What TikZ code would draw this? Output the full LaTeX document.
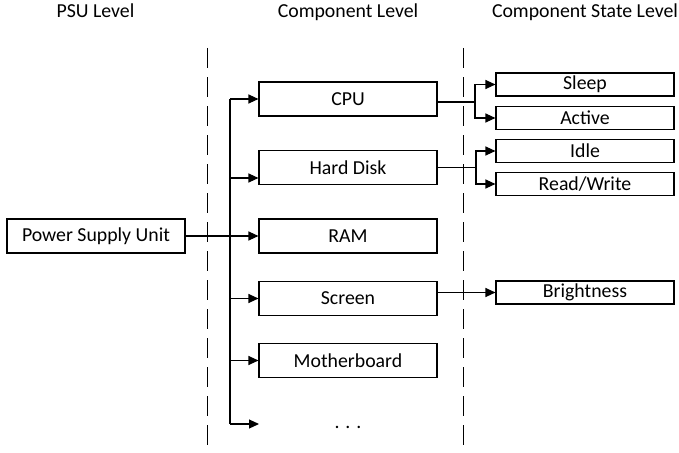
\documentclass[tikz,border=0pt]{standalone}
\usepackage{fontspec}
\setmainfont{Carlito}
\usetikzlibrary{arrows.meta}
\begin{document}
\begin{tikzpicture}[x=1pt,y=1pt,
  font=\fontsize{19.8}{23}\selectfont,
  box/.style={draw, line width=1.1pt, inner sep=0pt, minimum width=178pt, minimum height=34pt},
  sbox/.style={draw, line width=1.1pt, inner sep=0pt, minimum width=178pt, minimum height=23pt},
  title/.style={anchor=base, inner sep=0pt},
  conn/.style={line width=1.1pt},
  arr/.style={conn, -{Triangle[length=10pt,width=9pt]}},
  sep/.style={line width=0.9pt, dash pattern=on 20pt off 9pt}]
\useasboundingbox (0,0) rectangle (679,-452);
% titles
\node[title] (t1) at (95.5,-17.3) {PSU Level};
\node[title] (t2) at (348,-17.3) {Component Level};
\node[title] (t3) at (585,-17.3) {Component State Level};
% separators
\coordinate (s1a) at (207,-48); \coordinate (s1b) at (207,-452);
\coordinate (s2a) at (463,-48); \coordinate (s2b) at (463,-452);
\draw[sep] (s1a) -- (s1b);
\draw[sep] (s2a) -- (s2b);
% nodes
\node[box] (psu) at (96,-236) {Power Supply Unit};
\node[box] (cpu) at (348,-99) {CPU};
\node[box] (hd) at (348,-167.5) {Hard Disk};
\node[box] (ram) at (348,-236) {RAM};
\node[box] (scr) at (348,-298.5) {Screen};
\node[box] (mb) at (348,-360.5) {Motherboard};
\node[anchor=base, inner sep=0pt] (dots) at (348,-428) {. . .};
\node[sbox] (sleep) at (585,-84.5) {\raisebox{-1pt}{Sleep}};
\node[sbox] (active) at (585,-118) {\raisebox{-1pt}{Active}};
\node[sbox] (idle) at (585,-151) {\raisebox{-1pt}{Idle}};
\node[sbox] (rw) at (585,-184) {\raisebox{-1pt}{Read/Write}};
\node[sbox] (bright) at (585,-292.5) {\raisebox{-1pt}{Brightness}};
% bus
\coordinate (bt) at (230,-99);
\coordinate (bb) at (230,-424);
\coordinate (dotsin) at (259,-424);
\draw[conn] (bt) -- (bb);
\draw[arr] (psu.east) -- (ram.west);
\draw[arr] (bt) -- (cpu.west);
\draw[arr] (230,-178) -- (hd.west |- 0,-178);
\draw[arr] (bt |- scr.west) -- (scr.west);
\draw[arr] (bt |- mb.west) -- (mb.west);
\draw[arr] (bb) -- (dotsin);
% CPU states
\coordinate (j1) at (475,-102);
\draw[conn] (cpu.east |- j1) -- (j1);
\draw[arr] (j1) |- (sleep.west);
\draw[arr] (j1) |- (active.west);
% HD states
\coordinate (j2) at (476,-167.5);
\draw[conn] (hd.east) -- (j2);
\draw[arr] (j2) |- (idle.west);
\draw[arr] (j2) |- (rw.west);
% Screen
\draw[arr] (scr.east |- bright.west) -- (bright.west);
\end{tikzpicture}
\end{document}
